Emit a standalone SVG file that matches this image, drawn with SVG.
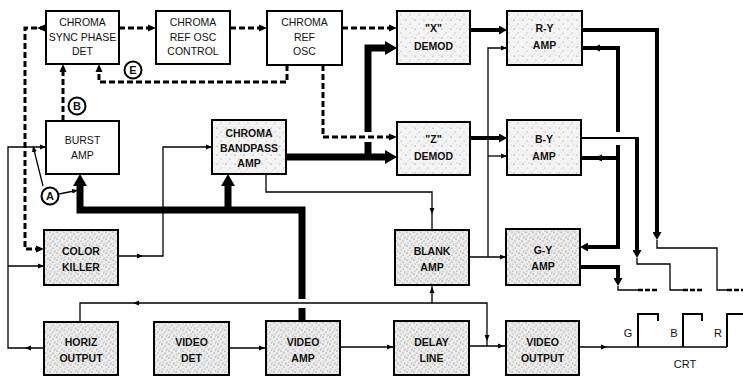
<svg xmlns="http://www.w3.org/2000/svg" width="743" height="376" viewBox="0 0 743 376">
<defs>
<style>
.bx{stroke:#000;stroke-width:2;fill:#fff}
.s1{fill:url(#st1)}
.s2{fill:url(#st2)}
.t{font-family:"Liberation Sans",Arial,sans-serif;font-size:10.5px;text-anchor:middle;fill:#111}
.b{font-weight:bold}
.lb{font-family:"Liberation Sans",Arial,sans-serif;font-size:11px;text-anchor:middle;fill:#111}
.th{fill:none;stroke:#000;stroke-width:1.3}
.md{fill:none;stroke:#000;stroke-width:4}
.tk{fill:none;stroke:#000;stroke-width:7}
.ds{fill:none;stroke:#000;stroke-width:3;stroke-dasharray:6 3}
.de{fill:none;stroke:#000;stroke-width:2.5;stroke-dasharray:5 2}
.pu{fill:none;stroke:#000;stroke-width:2}
.ar{fill:none;stroke:none}
.ci{fill:#fff;stroke:#000;stroke-width:2}
</style>
<pattern id="st1" width="9" height="9" patternUnits="userSpaceOnUse">
<rect width="9" height="9" fill="#f4f4f4"/>
<circle cx="1" cy="2" r=".6" fill="#777"/>
<circle cx="5" cy="6" r=".5" fill="#888"/>
<circle cx="7" cy="1" r=".4" fill="#999"/>
<circle cx="3" cy="8" r=".4" fill="#aaa"/>
</pattern>
<pattern id="st2" width="7" height="7" patternUnits="userSpaceOnUse">
<rect width="7" height="7" fill="#ececec"/>
<circle cx="1" cy="1" r=".6" fill="#666"/>
<circle cx="4" cy="3" r=".6" fill="#777"/>
<circle cx="2" cy="5" r=".5" fill="#888"/>
<circle cx="6" cy="6" r=".5" fill="#777"/>
<circle cx="5.5" cy=".5" r=".4" fill="#999"/>
</pattern>
<marker id="as" viewBox="0 0 6 6" refX="6" refY="3" markerWidth="6" markerHeight="6" markerUnits="userSpaceOnUse" orient="auto"><path d="M0,0.5 L6,3 L0,5.5z"/></marker>
<marker id="ad" viewBox="0 0 8 8" refX="8" refY="4" markerWidth="8" markerHeight="8" markerUnits="userSpaceOnUse" orient="auto"><path d="M0,0.5 L8,4 L0,7.5z"/></marker>
<marker id="am" viewBox="0 0 8 9" refX="8" refY="4.5" markerWidth="8" markerHeight="9" markerUnits="userSpaceOnUse" orient="auto"><path d="M0,0 L8,4.5 L0,9z"/></marker>
<marker id="ab" viewBox="0 0 12 14" refX="12" refY="7" markerWidth="12" markerHeight="14" markerUnits="userSpaceOnUse" orient="auto"><path d="M0,0 L12,7 L0,14z"/></marker>
</defs>
<rect width="743" height="376" fill="#fff"/>

<g id="connectors">
<!-- dashed control loops -->
<path class="ds" d="M46,28 H25 V249 H40"/>
<path class="ds" d="M119,28 H150"/>
<path class="ds" d="M230,28 H261"/>
<path class="ds" d="M342,28 H391"/>
<path class="ds" d="M287,65 V82 H99 V70"/>
<path class="ds" d="M323,65 V137 H391"/>
<path class="ds" d="M63,121 V70"/>
<path class="ar" d="M38,28 L37,28" marker-end="url(#ad)"/>
<path class="ar" d="M43,249 L44,249" marker-end="url(#ad)"/>
<path class="ar" d="M155,28 L156,28" marker-end="url(#ad)"/>
<path class="ar" d="M266,28 L267,28" marker-end="url(#ad)"/>
<path class="ar" d="M396,28 L397,28" marker-end="url(#ad)"/>
<path class="ar" d="M99,65 L99,64" marker-end="url(#ad)"/>
<path class="ar" d="M396,137 L397,137" marker-end="url(#ad)"/>
<path class="ar" d="M63,65 L63,64" marker-end="url(#ad)"/>

<!-- thick chroma / video bus -->
<path class="tk" d="M80,184 V210 H302 V299"/>
<path class="tk" d="M302,308 V321"/>
<path class="tk" d="M228,210 V184"/>
<path class="ar" d="M80,175 L80,174" marker-end="url(#ab)"/>
<path class="ar" d="M228,175 L228,174" marker-end="url(#ab)"/>
<path class="tk" d="M286,157 H387"/>
<path class="tk" d="M368,157 V142"/>
<path class="tk" d="M368,132 V48 H387"/>
<path class="ar" d="M396,157 L397,157" marker-end="url(#ab)"/>
<path class="ar" d="M396,48 L397,48" marker-end="url(#ab)"/>

<!-- demod to amps -->
<path class="md" d="M470,30 H501"/>
<path class="md" d="M470,138 H501"/>
<path class="ar" d="M506,30 L507,30" marker-end="url(#am)"/>
<path class="ar" d="M506,138 L507,138" marker-end="url(#am)"/>

<!-- blanking to amps -->
<path class="th" d="M469,257 H506"/>
<path class="th" d="M488,257 V48 H507"/>
<path class="th" d="M488,156 H507"/>
<path class="ar" d="M505,257 L506,257" marker-end="url(#as)"/>
<path class="ar" d="M506,48 L507,48" marker-end="url(#as)"/>
<path class="ar" d="M506,156 L507,156" marker-end="url(#as)"/>

<!-- bandpass to blank amp -->
<path class="th" d="M266,174 V192 H432 V230"/>
<path class="ar" d="M432,213 L432,214" marker-end="url(#as)"/>

<!-- color killer to bandpass -->
<path class="th" d="M118,256 H163 V147 H212"/>
<path class="ar" d="M211,147 L212,147" marker-end="url(#as)"/>
<path class="ar" d="M142,256 L143,256" marker-end="url(#as)"/>

<!-- horizontal pulses -->
<path class="th" d="M44,348 H8 V147 H46"/>
<path class="th" d="M8,266 H44"/>
<path class="ar" d="M45,147 L46,147" marker-end="url(#as)"/>
<path class="ar" d="M43,266 L44,266" marker-end="url(#as)"/>
<path class="ar" d="M26,348 L25,348" marker-end="url(#as)"/>

<!-- A pointers -->
<path class="th" d="M43,186 L34,150"/>
<path class="ar" d="M33.5,148 L33,146" marker-end="url(#as)"/>
<path class="th" d="M59,194 L74,191"/>
<path class="ar" d="M76,190.6 L78,190.2" marker-end="url(#as)"/>

<!-- sync line -->
<path class="th" d="M80,322 V303 H487 V346"/>
<path class="th" d="M432,303 V285"/>
<path class="ar" d="M432,288 L432,287" marker-end="url(#as)"/>
<path class="ar" d="M134,303 L133,303" marker-end="url(#as)"/>
<path class="ar" d="M487,340 L487,341" marker-end="url(#as)"/>

<!-- video chain -->
<path class="th" d="M229,348 H266"/>
<path class="th" d="M340,347 H394"/>
<path class="th" d="M469,346 H506"/>
<path class="th" d="M579,347 H727"/>
<path class="ar" d="M264,348 L265,348" marker-end="url(#as)"/>
<path class="ar" d="M392,347 L393,347" marker-end="url(#as)"/>
<path class="ar" d="M503,346 L504,346" marker-end="url(#as)"/>
<path class="ar" d="M606,347 L607,347" marker-end="url(#as)"/>

<!-- colour difference outputs to CRT -->
<path class="md" d="M582,30 H657 V234"/>
<path class="ar" d="M657,239 L657,240" marker-end="url(#am)"/>
<path class="th" d="M657,240 V248 H717 V290 H727"/>
<path class="de" d="M727,290 H743"/>

<path class="pu" d="M581,138 H637"/>
<path class="md" d="M637,137 V252"/>
<path class="ar" d="M637,257 L637,258" marker-end="url(#am)"/>
<path class="th" d="M637,258 V264 H670 V290 H683"/>
<path class="de" d="M683,290 H703"/>

<path class="md" d="M580,267 H618 V280"/>
<path class="ar" d="M618,285 L618,286" marker-end="url(#am)"/>
<path class="th" d="M618,286 V290 H638"/>
<path class="de" d="M638,290 H658"/>

<!-- matrix -->
<path class="md" d="M582,48 H618 V132"/>
<path class="md" d="M618,145 V247 H586"/>
<path class="md" d="M581,158 H618"/>
<path class="ar" d="M593,48 L592,48" marker-end="url(#ad)"/>
<path class="ar" d="M595,158 L594,158" marker-end="url(#ad)"/>
<path class="ar" d="M581,247 L580,247" marker-end="url(#am)"/>

<!-- CRT grid pulses -->
<path class="pu" d="M638,347 V314 H658 V321"/>
<path class="pu" d="M683,347 V314 H702 V321"/>
<path class="pu" d="M727,347 V314 H743"/>
</g>

<g id="labels">
<g id="lbl_E"><circle class="ci" cx="133" cy="70" r="8.5"/><text class="lb b" x="133" y="74">E</text></g>
<g id="lbl_B"><circle class="ci" cx="77" cy="106" r="8.5"/><text class="lb b" x="77" y="110">B</text></g>
<g id="lbl_A"><circle class="ci" cx="50" cy="196" r="8.5"/><text class="lb b" x="50" y="200">A</text></g>
<text class="lb" x="628" y="337">G</text>
<text class="lb" x="674" y="337">B</text>
<text class="lb" x="718" y="337">R</text>
<text class="lb" x="685" y="368">CRT</text>
</g>

<g id="n_sync"><rect class="bx" x="46" y="11" width="73" height="53"/>
<text class="t" x="82.5" y="26">CHROMA</text><text class="t" x="82.5" y="41">SYNC PHASE</text><text class="t" x="82.5" y="55">DET</text></g>
<g id="n_refctl"><rect class="bx" x="156" y="11" width="74" height="53"/>
<text class="t" x="193" y="26">CHROMA</text><text class="t" x="193" y="41">REF OSC</text><text class="t" x="193" y="55">CONTROL</text></g>
<g id="n_refosc"><rect class="bx" x="267" y="11" width="75" height="54"/>
<text class="t" x="304.5" y="26">CHROMA</text><text class="t" x="304.5" y="41">REF</text><text class="t" x="304.5" y="55">OSC</text></g>
<g id="n_xdemod"><rect class="bx s1" x="397" y="11" width="73" height="53"/>
<text class="t b" x="433.5" y="32">"X"</text><text class="t b" x="433.5" y="50">DEMOD</text></g>
<g id="n_ry"><rect class="bx s1" x="507" y="11" width="75" height="54"/>
<text class="t b" x="544.5" y="32">R-Y</text><text class="t b" x="544.5" y="49">AMP</text></g>

<g id="n_burst"><rect class="bx" x="46" y="121" width="73" height="53"/>
<text class="t" x="82.5" y="144">BURST</text><text class="t" x="82.5" y="159">AMP</text></g>
<g id="n_bp"><rect class="bx s1" x="212" y="120" width="74" height="54"/>
<text class="t b" x="249" y="137">CHROMA</text><text class="t b" x="249" y="152">BANDPASS</text><text class="t b" x="249" y="167">AMP</text></g>
<g id="n_zdemod"><rect class="bx s1" x="397" y="122" width="73" height="53"/>
<text class="t b" x="433.5" y="143">"Z"</text><text class="t b" x="433.5" y="160">DEMOD</text></g>
<g id="n_by"><rect class="bx s1" x="507" y="120" width="74" height="55"/>
<text class="t b" x="544" y="143">B-Y</text><text class="t b" x="544" y="160">AMP</text></g>

<g id="n_killer"><rect class="bx s2" x="44" y="230" width="74" height="55"/>
<text class="t b" x="81" y="255">COLOR</text><text class="t b" x="81" y="271">KILLER</text></g>
<g id="n_blank"><rect class="bx s2" x="395" y="230" width="74" height="55"/>
<text class="t b" x="432" y="255">BLANK</text><text class="t b" x="432" y="271">AMP</text></g>
<g id="n_gy"><rect class="bx s2" x="506" y="229" width="74" height="56"/>
<text class="t b" x="543" y="254">G-Y</text><text class="t b" x="543" y="270">AMP</text></g>

<g id="n_horiz"><rect class="bx s2" x="44" y="322" width="74" height="53"/>
<text class="t b" x="81" y="346">HORIZ</text><text class="t b" x="81" y="362">OUTPUT</text></g>
<g id="n_vdet"><rect class="bx s2" x="154" y="322" width="75" height="53"/>
<text class="t b" x="191.5" y="346">VIDEO</text><text class="t b" x="191.5" y="362">DET</text></g>
<g id="n_vamp"><rect class="bx s2" x="266" y="321" width="74" height="54"/>
<text class="t b" x="303" y="346">VIDEO</text><text class="t b" x="303" y="362">AMP</text></g>
<g id="n_delay"><rect class="bx s2" x="394" y="321" width="75" height="54"/>
<text class="t b" x="431.5" y="346">DELAY</text><text class="t b" x="431.5" y="362">LINE</text></g>
<g id="n_vout"><rect class="bx s2" x="506" y="321" width="73" height="54"/>
<text class="t b" x="542.5" y="346">VIDEO</text><text class="t b" x="542.5" y="362">OUTPUT</text></g>
</svg>
